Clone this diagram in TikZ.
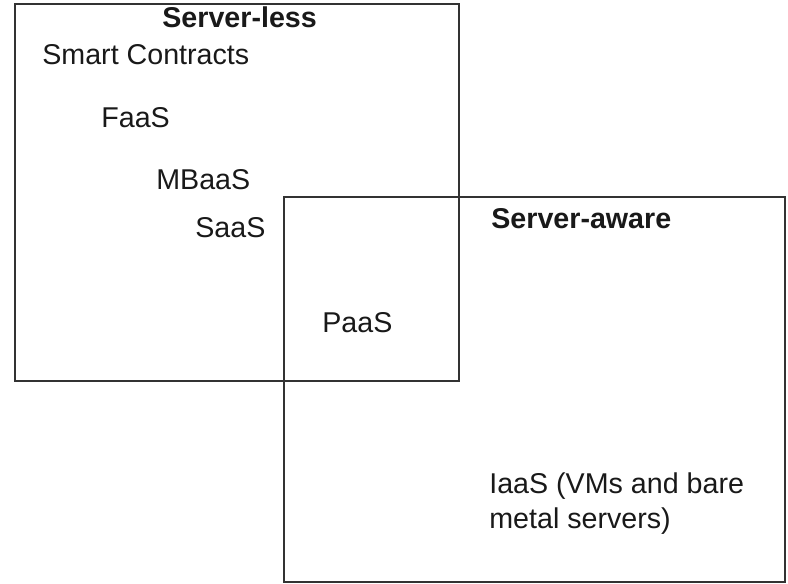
\documentclass[tikz,border=0pt]{standalone}
\usepackage{fontspec}
\setmainfont{Liberation Sans}
\begin{document}
\begin{tikzpicture}[x=0.02cm,y=-0.02cm,
	every node/.style={inner sep=0pt,anchor=base west,text=black!90,font=\fontsize{16.3}{19.9}\selectfont},
	box/.style={draw=black!80,line width=1.1pt}]
		\useasboundingbox (0,0) rectangle (788,584);
		\draw[box] (15,4) rectangle (459,381);
		\draw[box] (284,197) rectangle (785,582);
		\node[font=\fontsize{16.3}{19.9}\selectfont\bfseries] (less) at (162,28) {Server-less};
		\node (smart) at (42,65) {Smart Contracts};
		\node (faas) at (101,128) {FaaS};
		\node (mbaas) at (156,190) {MBaaS};
		\node (saas) at (195,238) {SaaS};
		\node[font=\fontsize{16.3}{19.9}\selectfont\bfseries] (aware) at (491,229) {Server-aware};
		\node (paas) at (322,333) {PaaS};
		\node[align=left] (iaas) at (489,528) {IaaS (VMs and bare\\metal servers)};
		\end{tikzpicture}
\end{document}
